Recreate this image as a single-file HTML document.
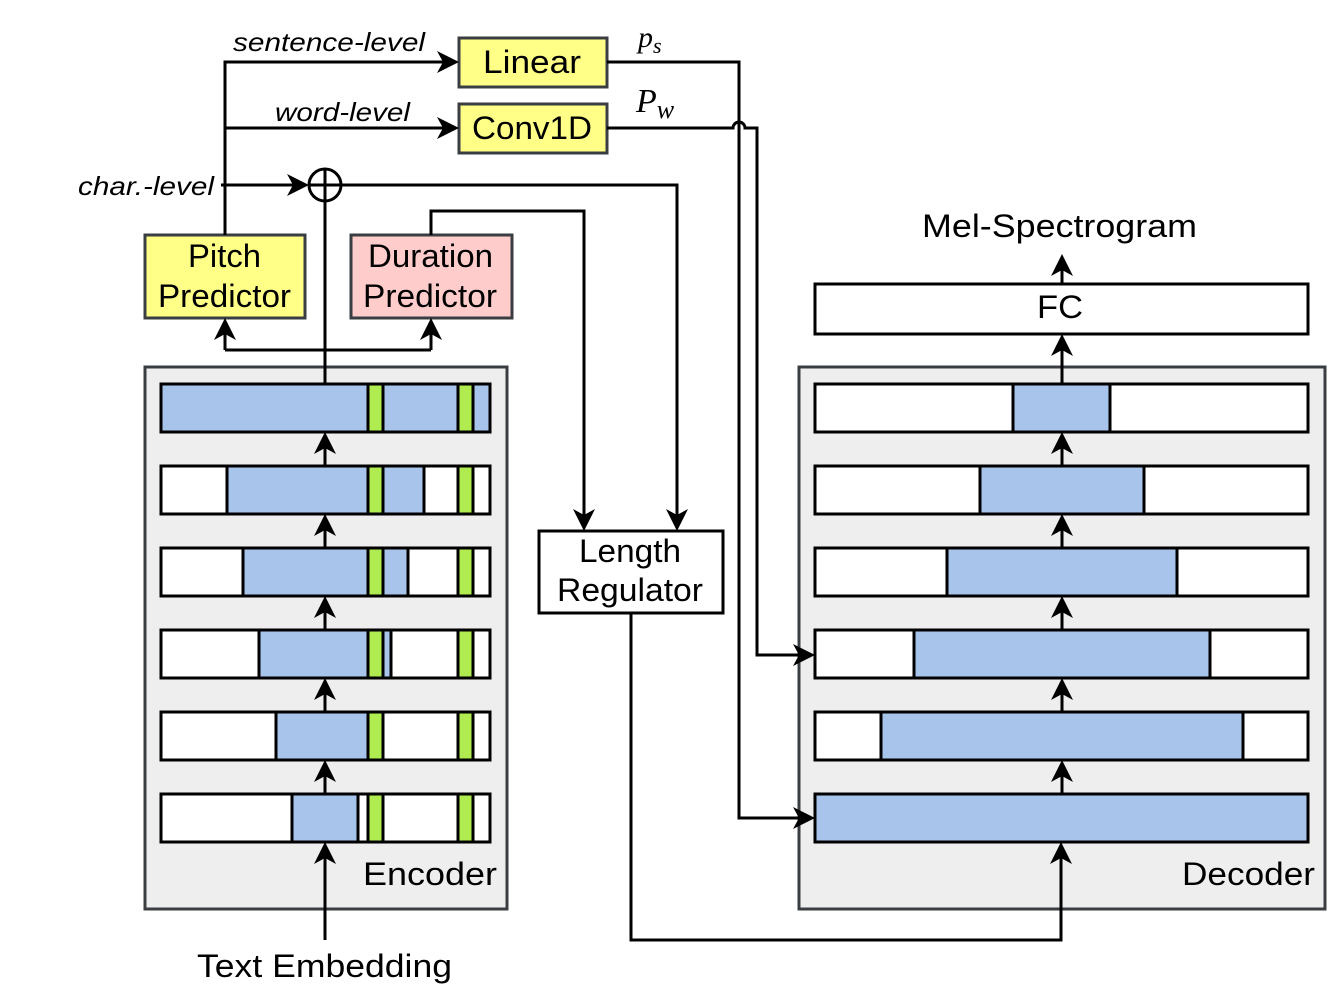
<!DOCTYPE html>
<html><head><meta charset="utf-8"><style>
html,body{margin:0;padding:0;background:#fff;}
svg{display:block;}
text{font-family:"Liberation Sans",sans-serif;fill:#000;}
</style></head><body>
<svg width="1344" height="994" viewBox="0 0 1344 994" xmlns="http://www.w3.org/2000/svg">
<defs>
<polygon id="up" points="0,0 -11,22 0,16 11,22" fill="#000"/>
<polygon id="dn" points="0,0 -11,-22 0,-16 11,-22" fill="#000"/>
<polygon id="rt" points="0,0 -22,-11 -16,0 -22,11" fill="#000"/>
</defs>
<!-- Encoder -->
<rect x="145" y="367" width="362" height="542" fill="#eeeeee" stroke="#3a3d42" stroke-width="3"/>
<g stroke="#000" stroke-width="3">
<rect x="161" y="384" width="329" height="48" fill="#a9c4eb"/>
<rect x="368" y="384" width="15" height="48" fill="#b0eb50"/>
<rect x="458" y="384" width="15" height="48" fill="#b0eb50"/>
<rect x="161" y="466" width="329" height="48" fill="#fff"/>
<rect x="227" y="466" width="197" height="48" fill="#a9c4eb"/>
<rect x="368" y="466" width="15" height="48" fill="#b0eb50"/>
<rect x="458" y="466" width="15" height="48" fill="#b0eb50"/>
<rect x="161" y="548" width="329" height="48" fill="#fff"/>
<rect x="243" y="548" width="165" height="48" fill="#a9c4eb"/>
<rect x="368" y="548" width="15" height="48" fill="#b0eb50"/>
<rect x="458" y="548" width="15" height="48" fill="#b0eb50"/>
<rect x="161" y="630" width="329" height="48" fill="#fff"/>
<rect x="259" y="630" width="132" height="48" fill="#a9c4eb"/>
<rect x="368" y="630" width="15" height="48" fill="#b0eb50"/>
<rect x="458" y="630" width="15" height="48" fill="#b0eb50"/>
<rect x="161" y="712" width="329" height="48" fill="#fff"/>
<rect x="276" y="712" width="92" height="48" fill="#a9c4eb"/>
<rect x="368" y="712" width="15" height="48" fill="#b0eb50"/>
<rect x="458" y="712" width="15" height="48" fill="#b0eb50"/>
<rect x="161" y="794" width="329" height="48" fill="#fff"/>
<rect x="292" y="794" width="66" height="48" fill="#a9c4eb"/>
<rect x="368" y="794" width="15" height="48" fill="#b0eb50"/>
<rect x="458" y="794" width="15" height="48" fill="#b0eb50"/>
</g>
<!-- Decoder -->
<rect x="799" y="367" width="526" height="542" fill="#eeeeee" stroke="#3a3d42" stroke-width="3"/>
<g stroke="#000" stroke-width="3">
<rect x="815" y="384" width="493" height="48" fill="#fff"/>
<rect x="1013" y="384" width="97" height="48" fill="#a9c4eb"/>
<rect x="815" y="466" width="493" height="48" fill="#fff"/>
<rect x="980" y="466" width="164" height="48" fill="#a9c4eb"/>
<rect x="815" y="548" width="493" height="48" fill="#fff"/>
<rect x="947" y="548" width="230" height="48" fill="#a9c4eb"/>
<rect x="815" y="630" width="493" height="48" fill="#fff"/>
<rect x="914" y="630" width="296" height="48" fill="#a9c4eb"/>
<rect x="815" y="712" width="493" height="48" fill="#fff"/>
<rect x="881" y="712" width="362" height="48" fill="#a9c4eb"/>
<rect x="815" y="794" width="493" height="48" fill="#a9c4eb"/>
<rect x="815" y="284" width="493" height="50" fill="#fff"/>
<rect x="145" y="235" width="160" height="83" fill="#ffff88" stroke="#3a3d42"/>
<rect x="351" y="235" width="161" height="83" fill="#ffcccc" stroke="#3a3d42"/>
<rect x="459" y="38" width="148" height="49" fill="#ffff88" stroke="#3a3d42"/>
<rect x="459" y="104" width="148" height="49" fill="#ffff88" stroke="#3a3d42"/>
<rect x="539" y="531" width="184" height="82" fill="#fff"/>
</g>
<!-- connectors -->
<g stroke="#000" stroke-width="3" fill="none">
<path d="M225,235 V62 H445"/>
<path d="M225,128 H445"/>
<path d="M221,185 H295"/>
<circle cx="325" cy="185" r="16"/>
<path d="M309,185 H341 M325,169 V201"/>
<path d="M341,185 H677 V517"/>
<path d="M325,201 V384"/>
<path d="M431,235 V211 H584 V517"/>
<path d="M325,384 V350"/>
<path d="M225,350 H431"/>
<path d="M225,350 V330"/>
<path d="M431,350 V330"/>
<path d="M607,62 H739 V818 H801"/>
<path d="M607,128 H733 A6,6 0 0 1 745,128 H757 V655 H801"/>
<path d="M631,613 V940 H1061 V856"/>
<path d="M325,940 V856"/>
<path d="M325,466 V446 M325,548 V528 M325,630 V610 M325,712 V692 M325,794 V774"/>
<path d="M1062,466 V446 M1062,548 V528 M1062,630 V610 M1062,712 V692 M1062,794 V774"/>
<path d="M1062,384 V348"/>
<path d="M1062,284 V268"/>
</g>
<use href="#rt" x="459" y="62"/>
<use href="#rt" x="459" y="128"/>
<use href="#rt" x="309" y="185"/>
<use href="#rt" x="815" y="818"/>
<use href="#rt" x="815" y="655"/>
<use href="#dn" x="677" y="531"/>
<use href="#dn" x="584" y="531"/>
<use href="#up" x="225" y="318"/>
<use href="#up" x="431" y="318"/>
<use href="#up" x="1061" y="842"/>
<use href="#up" x="325" y="842"/>
<use href="#up" x="325" y="432"/>
<use href="#up" x="325" y="514"/>
<use href="#up" x="325" y="596"/>
<use href="#up" x="325" y="678"/>
<use href="#up" x="325" y="760"/>
<use href="#up" x="1062" y="432"/>
<use href="#up" x="1062" y="514"/>
<use href="#up" x="1062" y="596"/>
<use href="#up" x="1062" y="678"/>
<use href="#up" x="1062" y="760"/>
<use href="#up" x="1062" y="334"/>
<use href="#up" x="1062" y="254"/>
<!-- labels -->
<g font-size="32">
<text x="483" y="73" textLength="98" lengthAdjust="spacingAndGlyphs">Linear</text>
<text x="472" y="139" textLength="120" lengthAdjust="spacingAndGlyphs">Conv1D</text>
<text x="188" y="267" textLength="73" lengthAdjust="spacingAndGlyphs">Pitch</text>
<text x="158" y="307" textLength="133" lengthAdjust="spacingAndGlyphs">Predictor</text>
<text x="368" y="267" textLength="125" lengthAdjust="spacingAndGlyphs">Duration</text>
<text x="363" y="307" textLength="134" lengthAdjust="spacingAndGlyphs">Predictor</text>
<text x="579" y="562" textLength="102" lengthAdjust="spacingAndGlyphs">Length</text>
<text x="557" y="601" textLength="146" lengthAdjust="spacingAndGlyphs">Regulator</text>
<text x="1037" y="318" textLength="46" lengthAdjust="spacingAndGlyphs">FC</text>
<text x="922" y="237" textLength="275" lengthAdjust="spacingAndGlyphs">Mel-Spectrogram</text>
<text x="363" y="885" textLength="134" lengthAdjust="spacingAndGlyphs">Encoder</text>
<text x="1182" y="885" textLength="133" lengthAdjust="spacingAndGlyphs">Decoder</text>
<text x="197" y="977" textLength="255" lengthAdjust="spacingAndGlyphs">Text Embedding</text>
</g>
<g font-size="26" font-style="italic">
<text x="233" y="51" textLength="192" lengthAdjust="spacingAndGlyphs">sentence-level</text>
<text x="275" y="121" textLength="135" lengthAdjust="spacingAndGlyphs">word-level</text>
<text x="78" y="195" textLength="136" lengthAdjust="spacingAndGlyphs">char.-level</text>
</g>
<text x="638" y="47" font-size="30" font-style="italic" style="font-family:'Liberation Serif',serif">p<tspan font-size="22" dy="6">s</tspan></text>
<text x="636" y="112" font-size="34" font-style="italic" style="font-family:'Liberation Serif',serif">P<tspan font-size="26" dy="6">w</tspan></text>
</svg>
</body></html>
